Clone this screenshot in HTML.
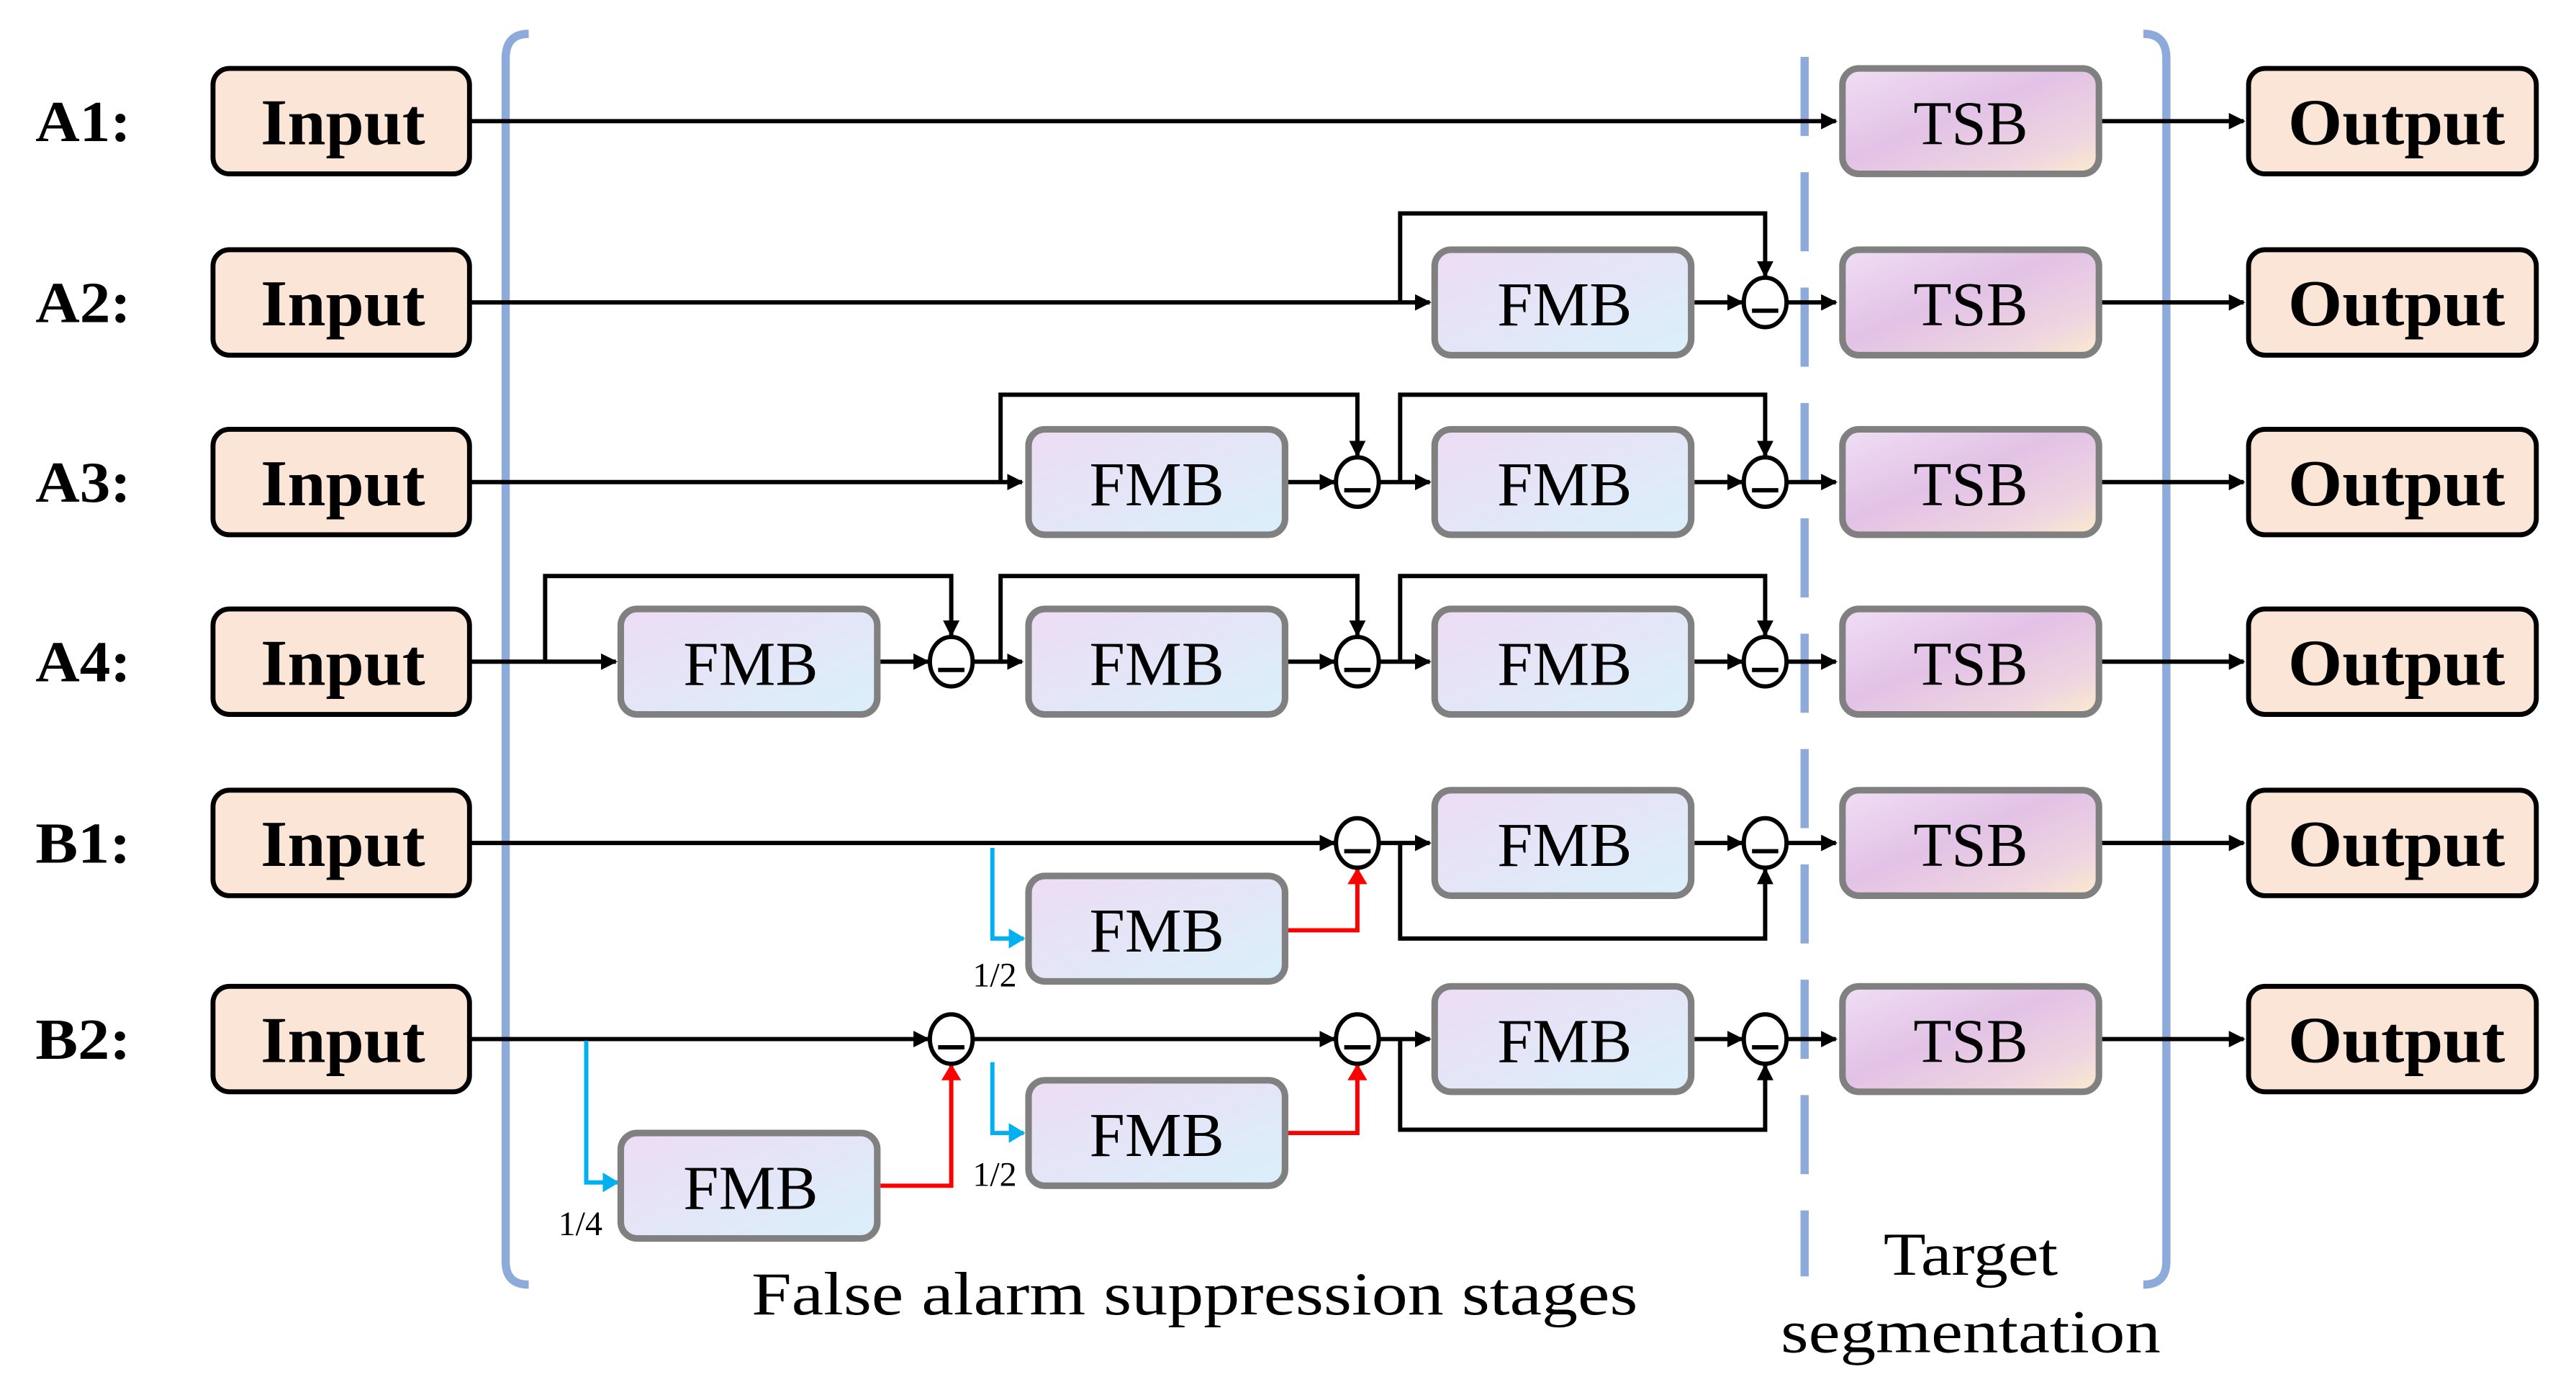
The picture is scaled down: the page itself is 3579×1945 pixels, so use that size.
<!DOCTYPE html>
<html><head><meta charset="utf-8"><style>
html,body{margin:0;padding:0;background:#fff;}
svg{display:block;}
text{font-family:"Liberation Serif",serif;}
</style></head><body>
<svg width="3579" height="1945" viewBox="0 0 1560.1 847.8" xmlns="http://www.w3.org/2000/svg">
<defs>
<linearGradient id="gf" x1="0" y1="0" x2="1" y2="1"><stop offset="0" stop-color="#eedcf4"/><stop offset="1" stop-color="#d9f0fa"/></linearGradient>
<linearGradient id="gt" x1="0" y1="0" x2="1" y2="1"><stop offset="0" stop-color="#f0def4"/><stop offset="0.45" stop-color="#e2c2e6"/><stop offset="0.8" stop-color="#efd6e0"/><stop offset="1" stop-color="#fbeccc"/></linearGradient>
<marker id="ak" markerWidth="10" markerHeight="10" refX="9" refY="5" orient="auto" markerUnits="userSpaceOnUse"><path d="M0,0 L10,5 L0,10 z" fill="#000"/></marker>
<marker id="ar" markerWidth="10" markerHeight="12" refX="9" refY="6" orient="auto" markerUnits="userSpaceOnUse"><path d="M0,0 L10,6 L0,12 z" fill="#f00"/></marker>
<marker id="ac" markerWidth="10" markerHeight="12" refX="9" refY="6" orient="auto" markerUnits="userSpaceOnUse"><path d="M0,0 L10,6 L0,12 z" fill="#00b0f0"/></marker>
</defs>
<g transform="translate(0.54,-0.5) scale(0.9958,0.998)">
<!-- brackets -->
<path d="M321,21 Q307,21 307,36 L307,766 Q307,780 321,780" fill="none" stroke="#8eaadb" stroke-width="5"/>
<path d="M1303,21 Q1317,21 1317,36 L1317,766 Q1317,780 1303,780" fill="none" stroke="#8eaadb" stroke-width="5"/>
<line x1="1097" y1="35" x2="1097" y2="775" stroke="#8eaadb" stroke-width="5" stroke-dasharray="48,22"/>

<g font-weight="bold" font-size="35">
<text x="21" y="86" textLength="58" lengthAdjust="spacingAndGlyphs">A1:</text><text x="21" y="196" textLength="58" lengthAdjust="spacingAndGlyphs">A2:</text><text x="21" y="305" textLength="58" lengthAdjust="spacingAndGlyphs">A3:</text>
<text x="21" y="414" textLength="58" lengthAdjust="spacingAndGlyphs">A4:</text><text x="21" y="524" textLength="58" lengthAdjust="spacingAndGlyphs">B1:</text><text x="21" y="643" textLength="58" lengthAdjust="spacingAndGlyphs">B2:</text>
</g>

<g fill="none" stroke="#000" stroke-width="2.6">
<line x1="286" y1="74" x2="1116" y2="74" marker-end="url(#ak)"/>
<line x1="286" y1="184" x2="869" y2="184" marker-end="url(#ak)"/>
<polyline points="851,184 851,130 1073,130 1073,168" marker-end="url(#ak)"/>
<line x1="286" y1="293" x2="621" y2="293" marker-end="url(#ak)"/>
<polyline points="608,293 608,240 825,240 825,277" marker-end="url(#ak)"/>
<polyline points="851,293 851,240 1073,240 1073,277" marker-end="url(#ak)"/>
<line x1="286" y1="402" x2="374" y2="402" marker-end="url(#ak)"/>
<polyline points="331,402 331,350 578,350 578,386" marker-end="url(#ak)"/>
<polyline points="608,402 608,350 825,350 825,386" marker-end="url(#ak)"/>
<polyline points="851,402 851,350 1073,350 1073,386" marker-end="url(#ak)"/>
<line x1="286" y1="512" x2="811" y2="512" marker-end="url(#ak)"/>
<polyline points="851,512 851,570 1073,570 1073,528" marker-end="url(#ak)"/>
<line x1="286" y1="631" x2="564" y2="631" marker-end="url(#ak)"/>
<line x1="592" y1="631" x2="811" y2="631" marker-end="url(#ak)"/>
<polyline points="851,631 851,686 1073,686 1073,647" marker-end="url(#ak)"/>
<line x1="534" y1="402" x2="564" y2="402" marker-end="url(#ak)"/>
<line x1="592" y1="402" x2="621" y2="402" marker-end="url(#ak)"/>
<line x1="782" y1="293" x2="811" y2="293" marker-end="url(#ak)"/>
<line x1="782" y1="402" x2="811" y2="402" marker-end="url(#ak)"/>
<line x1="839" y1="293" x2="869" y2="293" marker-end="url(#ak)"/>
<line x1="839" y1="402" x2="869" y2="402" marker-end="url(#ak)"/>
<line x1="839" y1="512" x2="869" y2="512" marker-end="url(#ak)"/>
<line x1="839" y1="631" x2="869" y2="631" marker-end="url(#ak)"/>
<line x1="1030" y1="184" x2="1059" y2="184" marker-end="url(#ak)"/>
<line x1="1030" y1="293" x2="1059" y2="293" marker-end="url(#ak)"/>
<line x1="1030" y1="402" x2="1059" y2="402" marker-end="url(#ak)"/>
<line x1="1030" y1="512" x2="1059" y2="512" marker-end="url(#ak)"/>
<line x1="1030" y1="631" x2="1059" y2="631" marker-end="url(#ak)"/>
<line x1="1087" y1="184" x2="1116" y2="184" marker-end="url(#ak)"/>
<line x1="1087" y1="293" x2="1116" y2="293" marker-end="url(#ak)"/>
<line x1="1087" y1="402" x2="1116" y2="402" marker-end="url(#ak)"/>
<line x1="1087" y1="512" x2="1116" y2="512" marker-end="url(#ak)"/>
<line x1="1087" y1="631" x2="1116" y2="631" marker-end="url(#ak)"/>
<line x1="1277" y1="74" x2="1364" y2="74" marker-end="url(#ak)"/>
<line x1="1277" y1="184" x2="1364" y2="184" marker-end="url(#ak)"/>
<line x1="1277" y1="293" x2="1364" y2="293" marker-end="url(#ak)"/>
<line x1="1277" y1="402" x2="1364" y2="402" marker-end="url(#ak)"/>
<line x1="1277" y1="512" x2="1364" y2="512" marker-end="url(#ak)"/>
<line x1="1277" y1="631" x2="1364" y2="631" marker-end="url(#ak)"/>
</g>

<g fill="none" stroke-width="2.6">
<polyline points="603,515 603,570 622,570" stroke="#00b0f0" marker-end="url(#ac)"/>
<polyline points="356,632 356,718 375,718" stroke="#00b0f0" marker-end="url(#ac)"/>
<polyline points="603,645 603,688 622,688" stroke="#00b0f0" marker-end="url(#ac)"/>
<polyline points="782,565 825,565 825,528" stroke="#f00" marker-end="url(#ar)"/>
<polyline points="535,720 578,720 578,647" stroke="#f00" marker-end="url(#ar)"/>
<polyline points="782,688 825,688 825,647" stroke="#f00" marker-end="url(#ar)"/>
</g>
<g font-size="21"><text x="591" y="599">1/2</text><text x="591" y="720">1/2</text><text x="339" y="750">1/4</text></g>

<g fill="#fbe5d6" stroke="#000" stroke-width="3">
<rect x="129" y="42" width="156" height="64" rx="10"/><rect x="129" y="152" width="156" height="64" rx="10"/>
<rect x="129" y="261" width="156" height="64" rx="10"/><rect x="129" y="370" width="156" height="64" rx="10"/>
<rect x="129" y="480" width="156" height="64" rx="10"/><rect x="129" y="599" width="156" height="64" rx="10"/>
<rect x="1367" y="42" width="175" height="64" rx="10"/><rect x="1367" y="152" width="175" height="64" rx="10"/>
<rect x="1367" y="261" width="175" height="64" rx="10"/><rect x="1367" y="370" width="175" height="64" rx="10"/>
<rect x="1367" y="480" width="175" height="64" rx="10"/><rect x="1367" y="599" width="175" height="64" rx="10"/>
</g>
<g font-weight="bold" font-size="40" text-anchor="middle">
<text x="208" y="88" textLength="100" lengthAdjust="spacingAndGlyphs">Input</text><text x="208" y="198" textLength="100" lengthAdjust="spacingAndGlyphs">Input</text><text x="208" y="307" textLength="100" lengthAdjust="spacingAndGlyphs">Input</text>
<text x="208" y="416" textLength="100" lengthAdjust="spacingAndGlyphs">Input</text><text x="208" y="526" textLength="100" lengthAdjust="spacingAndGlyphs">Input</text><text x="208" y="645" textLength="100" lengthAdjust="spacingAndGlyphs">Input</text>
<text x="1457" y="88" textLength="132" lengthAdjust="spacingAndGlyphs">Output</text><text x="1457" y="198" textLength="132" lengthAdjust="spacingAndGlyphs">Output</text><text x="1457" y="307" textLength="132" lengthAdjust="spacingAndGlyphs">Output</text>
<text x="1457" y="416" textLength="132" lengthAdjust="spacingAndGlyphs">Output</text><text x="1457" y="526" textLength="132" lengthAdjust="spacingAndGlyphs">Output</text><text x="1457" y="645" textLength="132" lengthAdjust="spacingAndGlyphs">Output</text>
</g>

<g fill="url(#gt)" stroke="#808080" stroke-width="4">
<rect x="1120" y="42" width="156" height="64" rx="10"/><rect x="1120" y="152" width="156" height="64" rx="10"/>
<rect x="1120" y="261" width="156" height="64" rx="10"/><rect x="1120" y="370" width="156" height="64" rx="10"/>
<rect x="1120" y="480" width="156" height="64" rx="10"/><rect x="1120" y="599" width="156" height="64" rx="10"/>
</g>
<g font-size="38" text-anchor="middle">
<text x="1198" y="88">TSB</text><text x="1198" y="198">TSB</text><text x="1198" y="307">TSB</text>
<text x="1198" y="416">TSB</text><text x="1198" y="526">TSB</text><text x="1198" y="645">TSB</text>
</g>

<g fill="url(#gf)" stroke="#808080" stroke-width="4">
<rect x="872" y="152" width="156" height="64" rx="10"/>
<rect x="625" y="261" width="156" height="64" rx="10"/><rect x="872" y="261" width="156" height="64" rx="10"/>
<rect x="377" y="370" width="156" height="64" rx="10"/><rect x="625" y="370" width="156" height="64" rx="10"/><rect x="872" y="370" width="156" height="64" rx="10"/>
<rect x="625" y="532" width="156" height="64" rx="10"/><rect x="872" y="480" width="156" height="64" rx="10"/>
<rect x="377" y="688" width="156" height="64" rx="10"/><rect x="625" y="656" width="156" height="64" rx="10"/><rect x="872" y="599" width="156" height="64" rx="10"/>
</g>
<g font-size="38" text-anchor="middle">
<text x="951" y="198" textLength="82" lengthAdjust="spacingAndGlyphs">FMB</text>
<text x="703" y="307" textLength="82" lengthAdjust="spacingAndGlyphs">FMB</text><text x="951" y="307" textLength="82" lengthAdjust="spacingAndGlyphs">FMB</text>
<text x="456" y="416" textLength="82" lengthAdjust="spacingAndGlyphs">FMB</text><text x="703" y="416" textLength="82" lengthAdjust="spacingAndGlyphs">FMB</text><text x="951" y="416" textLength="82" lengthAdjust="spacingAndGlyphs">FMB</text>
<text x="703" y="578" textLength="82" lengthAdjust="spacingAndGlyphs">FMB</text><text x="951" y="526" textLength="82" lengthAdjust="spacingAndGlyphs">FMB</text>
<text x="456" y="734" textLength="82" lengthAdjust="spacingAndGlyphs">FMB</text><text x="703" y="702" textLength="82" lengthAdjust="spacingAndGlyphs">FMB</text><text x="951" y="645" textLength="82" lengthAdjust="spacingAndGlyphs">FMB</text>
</g>

<g fill="#fff" stroke="#000" stroke-width="2.6">
<ellipse cx="1073" cy="184" rx="13" ry="15"/>
<ellipse cx="825" cy="293" rx="13" ry="15"/><ellipse cx="1073" cy="293" rx="13" ry="15"/>
<ellipse cx="578" cy="402" rx="13" ry="15"/><ellipse cx="825" cy="402" rx="13" ry="15"/><ellipse cx="1073" cy="402" rx="13" ry="15"/>
<ellipse cx="825" cy="512" rx="13" ry="15"/><ellipse cx="1073" cy="512" rx="13" ry="15"/>
<ellipse cx="578" cy="631" rx="13" ry="15"/><ellipse cx="825" cy="631" rx="13" ry="15"/><ellipse cx="1073" cy="631" rx="13" ry="15"/>
</g>
<g stroke="#000" stroke-width="2.6">
<line x1="1065" y1="189" x2="1081" y2="189"/>
<line x1="817" y1="298" x2="833" y2="298"/><line x1="1065" y1="298" x2="1081" y2="298"/>
<line x1="570" y1="407" x2="586" y2="407"/><line x1="817" y1="407" x2="833" y2="407"/><line x1="1065" y1="407" x2="1081" y2="407"/>
<line x1="817" y1="517" x2="833" y2="517"/><line x1="1065" y1="517" x2="1081" y2="517"/>
<line x1="570" y1="636" x2="586" y2="636"/><line x1="817" y1="636" x2="833" y2="636"/><line x1="1065" y1="636" x2="1081" y2="636"/>
</g>

<g font-size="37" text-anchor="middle">
<text x="726" y="798" textLength="539" lengthAdjust="spacingAndGlyphs">False alarm suppression stages</text>
<text x="1198" y="774" textLength="106" lengthAdjust="spacingAndGlyphs">Target</text>
<text x="1198" y="821" textLength="231" lengthAdjust="spacingAndGlyphs">segmentation</text>
</g>
</g>
</svg>
</body></html>
